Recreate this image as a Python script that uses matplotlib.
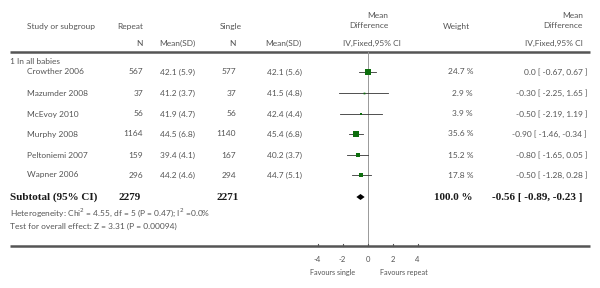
import matplotlib
matplotlib.use("Agg")
import matplotlib.pyplot as plt

studies = ["Crowther 2006", "Mazumder 2008", "McEvoy 2010", "Murphy 2008",
           "Peltoniemi 2007", "Wapner 2006"]
rep_n = [567, 37, 56, 1164, 159, 296]
rep_msd = ["42.1 (5.9)", "41.2 (3.7)", "41.9 (4.7)", "44.5 (6.8)", "39.4 (4.1)", "44.2 (4.6)"]
sin_n = [577, 37, 56, 1140, 167, 294]
sin_msd = ["42.1 (5.6)", "41.5 (4.8)", "42.4 (4.4)", "45.4 (6.8)", "40.2 (3.7)", "44.7 (5.1)"]
weight = [24.7, 2.9, 3.9, 35.6, 15.2, 17.8]
md = [0.0, -0.30, -0.50, -0.90, -0.80, -0.50]
lo = [-0.67, -2.25, -2.19, -1.46, -1.65, -1.28]
hi = [0.67, 1.65, 1.19, -0.34, 0.05, 0.28]
md_txt = ["0.0 [ -0.67, 0.67 ]", "-0.30 [ -2.25, 1.65 ]", "-0.50 [ -2.19, 1.19 ]",
          "-0.90 [ -1.46, -0.34 ]", "-0.80 [ -1.65, 0.05 ]", "-0.50 [ -1.28, 0.28 ]"]
tot_n = [2279, 2271]
tot_md, tot_lo, tot_hi = -0.56, -0.89, -0.23
ticks = [-4, -2, 0, 2, 4]

TXT = "#555555"
LINE = "#555555"
SANS = ["Lato", "DejaVu Sans"]
SERIF = ["Liberation Serif", "DejaVu Serif"]

fig = plt.figure(figsize=(6, 2.88), dpi=100)
ax = fig.add_axes([0, 0, 1, 1])
ax.set_xlim(0, 600)
ax.set_ylim(288, 0)
ax.axis("off")

def t(x, y, s, ha="left", size=6, **kw):
    kw.setdefault("family", SANS)
    kw.setdefault("color", TXT)
    ax.text(x, y, s, ha=ha, va="center", fontsize=size, **kw)

# header
t(27, 27, "Study or subgroup")
t(143, 27, "Repeat", ha="right")
t(242, 27, "Single", ha="right")
t(143, 43, "N", ha="right")
t(195, 43, "Mean(SD)", ha="right")
t(236, 43, "N", ha="right")
t(302, 43, "Mean(SD)", ha="right")
t(388, 16, "Mean", ha="right")
t(388, 26, "Difference", ha="right")
t(401, 43, "IV,Fixed,95% CI", ha="right")
t(456, 27, "Weight", ha="center")
t(583, 16, "Mean", ha="right")
t(583, 26, "Difference", ha="right")
t(583, 43, "IV,Fixed,95% CI", ha="right")
ax.plot([10, 590], [52, 52], color=LINE, lw=1.8, solid_capstyle="butt")
ax.plot([10, 590], [246, 246], color=LINE, lw=1.8, solid_capstyle="butt")

t(10, 61, "1 In all babies")
rows = [72, 93, 114, 134, 155, 175]
for i, y in enumerate(rows):
    t(27, y, studies[i])
    t(143, y, str(rep_n[i]), ha="right")
    t(195, y, rep_msd[i], ha="right")
    t(236, y, str(sin_n[i]), ha="right")
    t(302, y, sin_msd[i], ha="right")
    t(473, y, f"{weight[i]} %", ha="right")
    t(587, y, md_txt[i], ha="right")

ys = 197
bold = dict(size=8, family=SERIF, weight="bold", color="#1a1a1a")
t(10, ys, "Subtotal (95% CI)", **bold)
t(141, ys, str(tot_n[0]), ha="right", **bold)
t(239, ys, str(tot_n[1]), ha="right", **bold)
t(472, ys, "100.0 %", ha="right", **bold)
t(582, ys, f"{tot_md:.2f} [ {tot_lo:.2f}, {tot_hi:.2f} ]", ha="right", **bold)
t(10, 213, "Heterogeneity: Chi$^2$ = 4.55, df = 5 (P = 0.47); I$^2$ =0.0%", size=6)
t(10, 226, "Test for overall effect: Z = 3.31 (P = 0.00094)", size=6)

# forest panel: -4..4 spans pixels 317..417
fx = fig.add_axes([305 / 600, 0, 125 / 600, 1])
fx.set_xlim(-5, 5)
fx.set_ylim(288, 0)
fx.axis("off")
fx.plot([0, 0], [52, 246], color="#999999", lw=0.7)
for i, y in enumerate(rows):
    fx.plot([lo[i], hi[i]], [y, y], color="#333333", lw=0.6)
    fx.plot(md[i], y, marker="s", color="#0d6e0d", ms=0.75 * weight[i] ** 0.5, mew=0)
fx.fill([tot_lo, tot_md, tot_hi, tot_md], [ys, ys - 3, ys, ys + 3], color="black", lw=0)
for v in ticks:
    fx.plot([v, v], [246, 243.5], color=LINE, lw=0.8)
    fx.text(v, 259, str(v), ha="center", va="center", fontsize=5.5, family=SANS, color=TXT)
fx.text(-1, 272, "Favours single", ha="right", va="center", fontsize=5.2, family=SANS, color=TXT)
fx.text(1, 272, "Favours repeat", ha="left", va="center", fontsize=5.2, family=SANS, color=TXT)

fig.savefig("out.png", dpi=100)
